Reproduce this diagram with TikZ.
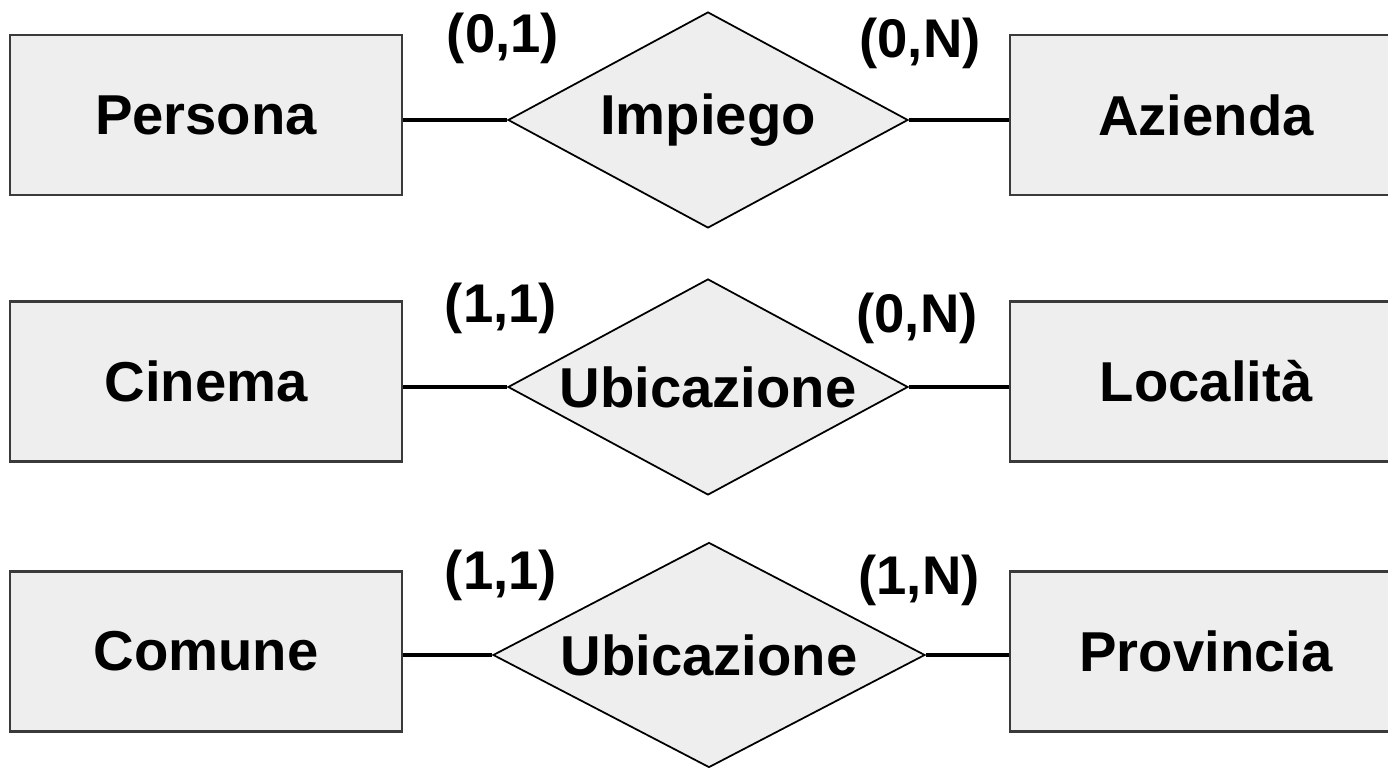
\documentclass[tikz,border=0pt]{standalone}
\usepackage{fontspec}
\setmainfont{Liberation Sans}
\usetikzlibrary{shapes.geometric, positioning}
\definecolor{erfill}{HTML}{EEEEEE}
\definecolor{erline}{HTML}{3A3A3A}
\tikzset{
  ent/.style  = {draw=erline, fill=erfill, line width=0.6pt, inner sep=0pt,
                 minimum width=3.92cm, minimum height=1.6cm,
                 font=\fontsize{16}{19}\selectfont\bfseries},
  rel/.style  = {diamond, draw=black, fill=erfill, line width=0.5pt, inner sep=0pt,
                 minimum width=4cm, minimum height=2.16cm},
  rtxt/.style = {font=\fontsize{16}{19}\selectfont\bfseries},
  card/.style = {font=\fontsize{15.5}{18}\selectfont\bfseries, inner sep=0pt},
  lnk/.style  = {line width=0.9pt, black},
}
\begin{document}
\begin{tikzpicture}
\useasboundingbox (0,0) rectangle (13.88,-7.69);

% Persona -- Impiego -- Azienda
\node[ent] (persona) at (2.06,-1.15) {Persona};
\node[rel, label={[rtxt]center:Impiego}] (impiego) at (7.08,-1.20) {};
\node[ent] (azienda) at (12.06,-1.15) {Azienda};
\draw[lnk] (impiego.west) -- (impiego.west -| persona.east);
\draw[lnk] (impiego.east) -- (impiego.east -| azienda.west);
\node[card] (c1a) at (5.03,-0.38) {(0,1)};
\node[card] (c1b) at (9.20,-0.43) {(0,N)};

% Cinema -- Ubicazione -- Localita
\node[ent] (cinema) at (2.06,-3.815) {Cinema};
\node[rel, label={[rtxt]center:Ubicazione}] (ubic1) at (7.08,-3.87) {};
\node[ent] (localita) at (12.06,-3.815) {Località};
\draw[lnk] (ubic1.west) -- (ubic1.west -| cinema.east);
\draw[lnk] (ubic1.east) -- (ubic1.east -| localita.west);
\node[card] (c2a) at (5.01,-3.08) {(1,1)};
\node[card] (c2b) at (9.17,-3.18) {(0,N)};

% Comune -- Ubicazione -- Provincia
\node[ent] (comune) at (2.06,-6.515) {Comune};
\node[rel, minimum width=4.32cm, minimum height=2.25cm,
      label={[rtxt]center:Ubicazione}] (ubic2) at (7.09,-6.55) {};
\node[ent] (provincia) at (12.06,-6.515) {Provincia};
\draw[lnk] (ubic2.west) -- (ubic2.west -| comune.east);
\draw[lnk] (ubic2.east) -- (ubic2.east -| provincia.west);
\node[card] (c3a) at (5.01,-5.75) {(1,1)};
\node[card] (c3b) at (9.19,-5.80) {(1,N)};

\end{tikzpicture}
\end{document}
